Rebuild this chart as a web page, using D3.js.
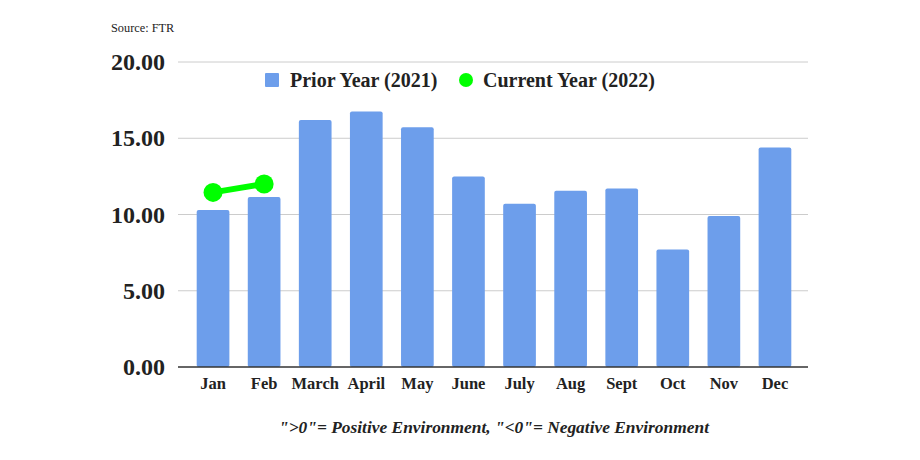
<!DOCTYPE html>
<html>
<head>
<meta charset="utf-8">
<script src="https://cdn.jsdelivr.net/npm/d3@7"></script>
<style>
  body { margin: 0; background: #fff; }
  svg { display: block; font-family: "Liberation Serif", "Times New Roman", serif; }
</style>
</head>
<body>
<div id="graphic"></div>
<script>
const months = ["Jan", "Feb", "March", "April", "May", "June", "July", "Aug", "Sept", "Oct", "Nov", "Dec"];
const priorYear = [10.3, 11.15, 16.2, 16.75, 15.72, 12.5, 10.7, 11.55, 11.7, 7.7, 9.9, 14.4];
const currentYear = [11.45, 12.0];
const yTicks = [0, 5, 10, 15, 20];

const width = 920, height = 460;
const gridLeft = 178, gridRight = 808;
const plotTop = 62, plotBottom = 367;

const svg = d3.select("#graphic").append("svg")
    .attr("width", width)
    .attr("height", height);

const x = d3.scaleBand()
    .domain(months)
    .range([187.5, 800.5])
    .paddingInner(0.36)
    .paddingOuter(0.18);

const y = d3.scaleLinear()
    .domain([0, 20])
    .range([plotBottom, plotTop]);

// source note
svg.append("text")
    .attr("x", 111).attr("y", 32)
    .attr("font-size", 12.3)
    .attr("fill", "#222")
    .text("Source: FTR");

// gridlines
svg.append("g")
    .selectAll("line")
    .data(yTicks.slice(1))
    .join("line")
    .attr("x1", gridLeft).attr("x2", gridRight)
    .attr("y1", d => y(d)).attr("y2", d => y(d))
    .attr("stroke", "#cccccc")
    .attr("stroke-width", 1);

// y axis labels
const yAxis = svg.append("g")
    .attr("transform", `translate(${gridLeft},0)`)
    .call(d3.axisLeft(y).tickValues(yTicks).tickFormat(d3.format(".2f")).tickSize(0).tickPadding(13));
yAxis.select(".domain").remove();
yAxis.selectAll("text")
    .attr("font-family", "Liberation Serif, serif")
    .attr("font-size", 24)
    .attr("font-weight", "bold")
    .attr("fill", "#222");

// bars
svg.append("g")
    .selectAll("rect")
    .data(priorYear)
    .join("rect")
    .attr("x", (d, i) => x(months[i]))
    .attr("width", x.bandwidth())
    .attr("y", d => y(d))
    .attr("height", d => y(0) - y(d))
    .attr("rx", 2)
    .attr("fill", "#6d9eeb");

// baseline
svg.append("line")
    .attr("x1", gridLeft).attr("x2", gridRight)
    .attr("y1", y(0)).attr("y2", y(0))
    .attr("stroke", "#333")
    .attr("stroke-width", 1.5);

// x axis labels
const xAxis = svg.append("g")
    .attr("transform", `translate(0,${y(0)})`)
    .call(d3.axisBottom(x).tickSize(0).tickPadding(10));
xAxis.select(".domain").remove();
xAxis.selectAll("text")
    .attr("font-family", "Liberation Serif, serif")
    .attr("font-size", 16.5)
    .attr("font-weight", "bold")
    .attr("fill", "#222");

// current year line + points
const cx = (d, i) => x(months[i]) + x.bandwidth() / 2;
svg.append("path")
    .datum(currentYear)
    .attr("fill", "none")
    .attr("stroke", "#00ff00")
    .attr("stroke-width", 6)
    .attr("d", d3.line().x(cx).y(d => y(d)));

svg.append("g")
    .selectAll("circle")
    .data(currentYear)
    .join("circle")
    .attr("cx", cx)
    .attr("cy", d => y(d))
    .attr("r", 9.5)
    .attr("fill", "#00ff00");

// legend
const legend = svg.append("g").attr("font-size", 20).attr("font-weight", "bold").attr("fill", "#222");
legend.append("rect")
    .attr("x", 265).attr("y", 73).attr("width", 14).attr("height", 14).attr("rx", 1)
    .attr("fill", "#6d9eeb");
legend.append("text")
    .attr("x", 290).attr("y", 87)
    .text("Prior Year (2021)");
legend.append("circle")
    .attr("cx", 466).attr("cy", 80).attr("r", 7)
    .attr("fill", "#00ff00");
legend.append("text")
    .attr("x", 483).attr("y", 87)
    .text("Current Year (2022)");

// footer
svg.append("text")
    .attr("x", 494).attr("y", 433)
    .attr("text-anchor", "middle")
    .attr("font-size", 17.4)
    .attr("font-weight", "bold")
    .attr("font-style", "italic")
    .attr("fill", "#222")
    .text("\">0\"= Positive Environment, \"<0\"= Negative Environment");
</script>
</body>
</html>
